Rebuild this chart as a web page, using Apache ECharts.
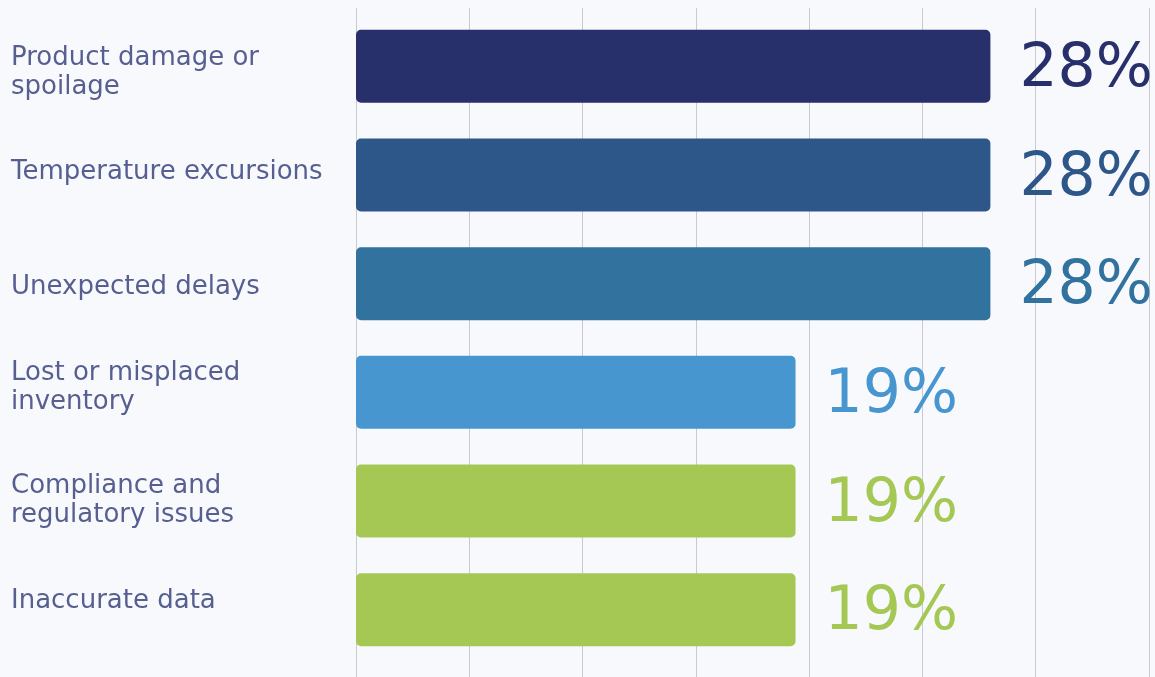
<!DOCTYPE html>
<html>
<head>
<meta charset="utf-8">
<script src="https://cdn.jsdelivr.net/npm/echarts@6/dist/echarts.min.js"></script>
<style>
html,body{margin:0;padding:0;background:#f8f9fd;}
#chart{width:1155px;height:677px;}
</style>
</head>
<body>
<div id="chart"></div>
<script>
const categories = [
  "Product damage or\nspoilage",
  "Temperature excursions",
  "Unexpected delays",
  "Lost or misplaced\ninventory",
  "Compliance and\nregulatory issues",
  "Inaccurate data"
];
const values = [28, 28, 28, 19.4, 19.4, 19.4];
const valueLabels = ["28%", "28%", "28%", "19%", "19%", "19%"];
const colors = ["#28306b", "#2e5789", "#31729f", "#4896cf", "#a5c855", "#a5c855"];

// per-row vertical nudge of the category label (style only)
const labelShift = [6, -3, 4, -5, 0, -8];
const rich = {};
labelShift.forEach((s, i) => {
  rich['r' + i] = {
    fontFamily: 'DejaVu Sans', fontSize: 26, color: '#565f90', lineHeight: 29,
    padding: s >= 0 ? [2 * s, 0, 0, 0] : [0, 0, -2 * s, 0]
  };
});

const chart = echarts.init(document.getElementById('chart'));
chart.setOption({
  backgroundColor: '#f8f9fd',
  animation: false,
  grid: [
    {left: 356, right: 6, top: 8, bottom: 0},
    {left: 356, right: 6, top: 12, height: 652}
  ],
  xAxis: [
    {gridIndex: 0, type: 'value', min: 0, max: 35, interval: 5,
     axisLabel: {show: false}, axisLine: {show: false}, axisTick: {show: false},
     splitLine: {show: true, lineStyle: {color: '#c9c9ce', width: 1}}},
    {gridIndex: 1, type: 'value', min: 0, max: 35, interval: 5, show: false,
     splitLine: {show: false}}
  ],
  yAxis: [
    {gridIndex: 0, type: 'category', data: categories, show: false},
    {gridIndex: 1, type: 'category', data: categories, inverse: true,
     axisLine: {show: false}, axisTick: {show: false},
     axisLabel: {align: 'left', margin: 345, fontFamily: 'DejaVu Sans', fontSize: 26,
       color: '#565f90', lineHeight: 29,
       formatter: (v, i) => '{r' + i + '|' + v.split('\n').join('}\n{r' + i + '|') + '}',
       rich: rich}}
  ],
  series: [
    {type: 'bar', xAxisIndex: 0, yAxisIndex: 0, data: []},
    {type: 'bar', xAxisIndex: 1, yAxisIndex: 1, barWidth: 73,
     data: values.map((v, i) => ({
       value: v,
       itemStyle: {color: colors[i], borderRadius: 5},
       label: {color: colors[i]}
     })),
     label: {show: true, position: 'right', distance: 29,
       fontFamily: 'DejaVu Sans', fontSize: 60, offset: [0, 4],
       formatter: p => valueLabels[p.dataIndex]}
    }
  ]
});
</script>
</body>
</html>
